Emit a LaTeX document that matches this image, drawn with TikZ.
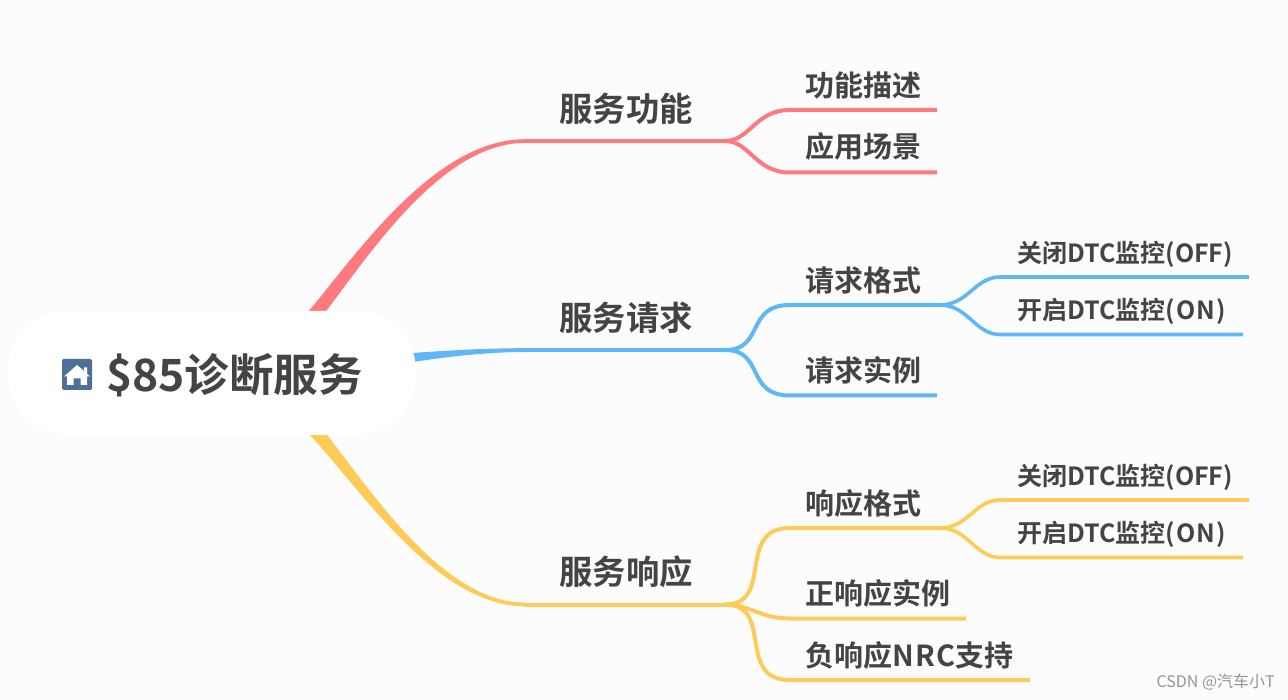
\documentclass[tikz,border=0pt]{standalone}
\usepackage{fontspec}
\setmainfont{Noto Sans CJK SC}[BoldFont={Noto Sans CJK SC Bold}]
\newfontfamily\wmfont{Noto Sans CJK SC}
\newcommand{\widelatin}[1]{{\addfontfeature{LetterSpace=5}#1}}
\definecolor{bgc}{HTML}{FCFCFC}
\definecolor{txt}{HTML}{444444}
\definecolor{redb}{HTML}{FF7A7E}
\definecolor{blueb}{HTML}{5FB8F5}
\definecolor{yelb}{HTML}{FFCB57}
\definecolor{iconc}{HTML}{4F7096}
\tikzset{
 x=1pt,y=-1pt,
 lv1/.style={font=\bfseries\fontsize{33.4}{33.4}\selectfont,text=txt,anchor=west,inner sep=0pt},
 lv2/.style={font=\bfseries\fontsize{29}{29}\selectfont,text=txt,anchor=west,inner sep=0pt},
 lv3/.style={font=\bfseries\fontsize{25}{25}\selectfont,text=txt,anchor=west,inner sep=0pt},
 mid/.style={line width=4pt,line cap=butt},
 fine/.style={line width=3.6pt,line cap=butt},
}
\begin{document}
\begin{tikzpicture}
\useasboundingbox (0,0) rectangle (1288,700);
\fill[bgc] (0,0) rectangle (1288,700);
% root branches (tapered)
\fill[redb] (300,321) .. controls (345,272) and (428,139.2) .. (525,139.2) -- (525,142.9) .. controls (432,142.9) and (353,282) .. (310,331) -- cycle;
\fill[blueb] (400,354) .. controls (450,350) and (490,348.2) .. (525,348.2) -- (525,352) .. controls (490,352) and (450,356) .. (400,364) -- cycle;
\fill[yelb] (305,408) .. controls (352,459) and (432,602.6) .. (525,602.6) -- (525,606.3) .. controls (428,606.3) and (346,465) .. (293,418) -- cycle;
% root
\node[fill=white,rounded corners=60pt,minimum width=408pt,minimum height=124pt,inner sep=0pt] (root) at (212,373) {};
\node[fill=iconc,rounded corners=1.5pt,minimum width=30pt,minimum height=31pt,inner sep=0pt] (icon) at (77,374.5) {};
\fill[white] (77,365) -- (84,371) -- (84,367.5) -- (87,367.5) -- (87,374) -- (90,376.5) -- (87,376.5) -- (87,385) -- (80.5,385) -- (80.5,378.5) -- (73.5,378.5) -- (73.5,385) -- (67,385) -- (67,376.5) -- (64,376.5) -- cycle;
\node[font=\bfseries\fontsize{44.5}{44.5}\selectfont,text=txt,anchor=west,inner sep=0pt] (title) at (106,375) {\$85诊断服务};
% level 1 labels
\node[lv1] (a) at (559,109) {服务功能};
\node[lv1] (b) at (559,318) {服务请求};
\node[lv1] (c) at (559,572) {服务响应};
% level 2 labels
\node[lv2] (a1) at (805,85) {功能描述};
\node[lv2] (a2) at (805,146) {应用场景};
\node[lv2] (b1) at (805,280) {请求格式};
\node[lv2] (b2) at (805,370) {请求实例};
\node[lv2] (c1) at (805,503) {响应格式};
\node[lv2] (c2) at (805,593) {正响应实例};
\node[lv2] (c3) at (805,655) {负响应\widelatin{NRC}支持};
% level 3 labels
\node[lv3] (b11) at (1017,254) {关闭DTC监控(OFF)};
\node[lv3] (b12) at (1017,311) {开启DTC监控\widelatin{(ON)}};
\node[lv3] (c11) at (1017,477) {关闭DTC监控(OFF)};
\node[lv3] (c12) at (1017,534) {开启DTC监控\widelatin{(ON)}};
% junctions and line ends
\coordinate (ja) at (525,141);
\coordinate (jb) at (525,350);
\coordinate (jc) at (525,604.5);
\coordinate (ka) at (725,141);
\coordinate (kb) at (725,350);
\coordinate (kc) at (725,604.5);
\coordinate (ea1) at (937,110);
\coordinate (ea2) at (937,172.5);
\coordinate (eb1) at (940,305);
\coordinate (eb2) at (937,395.5);
\coordinate (ec1) at (940,528);
\coordinate (ec2) at (966,618.5);
\coordinate (ec3) at (1030,680);
\coordinate (eb11) at (1249,277);
\coordinate (eb12) at (1243,334.5);
\coordinate (ec11) at (1249,500);
\coordinate (ec12) at (1243,557.5);
% level 1 underlines
\draw[redb,mid] (ja) -- (ka);
\draw[blueb,mid] (jb) -- (kb);
\draw[yelb,mid] (jc) -- (kc);
% level 2 connectors
\draw[redb,mid] (ka) .. controls (750,141) and (755,110) .. (790,110) -- (ea1);
\draw[redb,mid] (ka) .. controls (750,141) and (755,172.5) .. (790,172.5) -- (ea2);
\draw[blueb,mid] (kb) .. controls (765,350) and (745,305) .. (790,305) -- (eb1);
\draw[blueb,mid] (kb) .. controls (765,350) and (745,395.5) .. (790,395.5) -- (eb2);
\draw[yelb,mid] (kc) .. controls (775,604.5) and (735,528) .. (790,528) -- (ec1);
\draw[yelb,mid] (kc) .. controls (750,604.5) and (760,618.5) .. (790,618.5) -- (ec2);
\draw[yelb,mid] (kc) .. controls (775,604.5) and (735,680) .. (790,680) -- (ec3);
% level 3 connectors
\draw[blueb,fine] (eb1) .. controls (968,305) and (975,277) .. (1000,277) -- (eb11);
\draw[blueb,fine] (eb1) .. controls (968,305) and (975,334.5) .. (1000,334.5) -- (eb12);
\draw[yelb,fine] (ec1) .. controls (968,528) and (975,500) .. (1000,500) -- (ec11);
\draw[yelb,fine] (ec1) .. controls (968,528) and (975,557.5) .. (1000,557.5) -- (ec12);
% watermark
\node[font=\wmfont\fontsize{16}{16}\selectfont,text=black!42,anchor=east,inner sep=0pt] (wm) at (1275,682) {CSDN @汽车小T};
\end{tikzpicture}
\end{document}
